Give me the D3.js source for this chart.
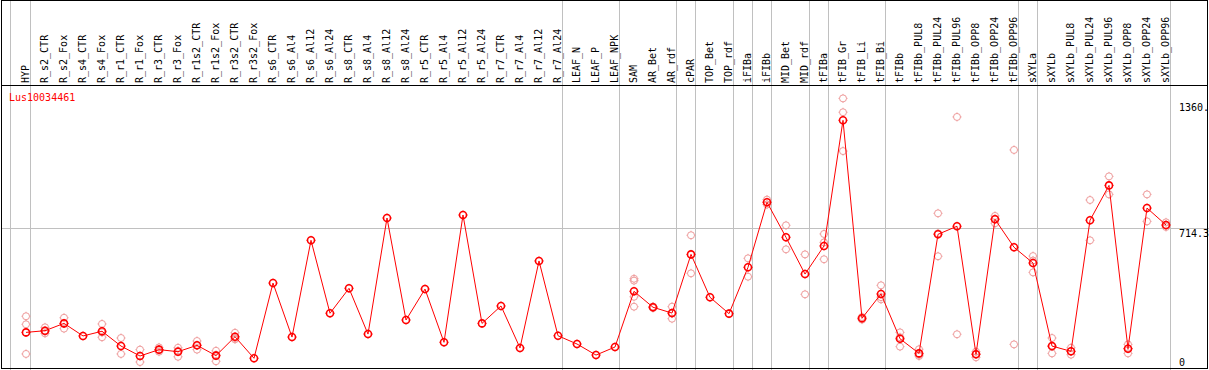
<!DOCTYPE html>
<html>
<head>
<meta charset="utf-8">
<script src="https://cdn.jsdelivr.net/npm/d3@7"></script>
<style>
  body { margin: 0; background: #fff; }
  svg text { font-family: "DejaVu Sans Mono", monospace; font-size: 10px; }
</style>
</head>
<body>
<div id="chart"></div>
<script>
const geneName = "Lus10034461";

const categories = ["HYP", "R_s2_CTR", "R_s2_Fox", "R_s4_CTR", "R_s4_Fox", "R_r1_CTR", "R_r1_Fox",
  "R_r3_CTR", "R_r3_Fox", "R_r1s2_CTR", "R_r1s2_Fox", "R_r3s2_CTR", "R_r3s2_Fox",
  "R_s6_CTR", "R_s6_Al4", "R_s6_Al12", "R_s6_Al24", "R_s8_CTR", "R_s8_Al4", "R_s8_Al12", "R_s8_Al24",
  "R_r5_CTR", "R_r5_Al4", "R_r5_Al12", "R_r5_Al24", "R_r7_CTR", "R_r7_Al4", "R_r7_Al12", "R_r7_Al24",
  "LEAF_N", "LEAF_P", "LEAF_NPK", "SAM", "AR_Bet", "AR_rdf", "cPAR", "TOP_Bet", "TOP_rdf",
  "iFIBa", "iFIBb", "MID_Bet", "MID_rdf", "tFIBa", "tFIB_Gr", "tFIB_Li", "tFIB_Bi", "tFIBb",
  "tFIBb_PUL8", "tFIBb_PUL24", "tFIBb_PUL96", "tFIBb_OPP8", "tFIBb_OPP24", "tFIBb_OPP96",
  "sXYLa", "sXYLb", "sXYLb_PUL8", "sXYLb_PUL24", "sXYLb_PUL96", "sXYLb_OPP8", "sXYLb_OPP24", "sXYLb_OPP96"];

// mean expression per sample
const means = [158, 167, 206, 139, 164, 85, 32,
  66, 55, 89, 34, 135, 20,
  421, 133, 649, 260, 393, 149, 768, 224,
  389, 105, 784, 206, 299, 75, 539, 140,
  96, 37, 80, 377, 292, 261, 574, 345, 258,
  505, 852, 665, 469, 619, 1289, 233, 363, 124,
  46, 681, 724, 41, 761, 612,
  528, 85, 57, 756, 942, 71, 821, 731];

// single replicates (pale circles)
const replicates = [[244, 201, 43], [185, 153, 163], [236, 178, 205], [], [203, 132, 158], [128, 43], [66, 0],
  [78, 55, 65], [76, 28, 60], [112, 66, 89], [60, 4, 38], [156, 121, 128], [],
  [], [], [], [], [], [], [], [],
  [], [], [], [], [], [], [], [],
  [], [], [], [444, 434, 348, 295], [296, 288], [295, 231, 258], [676, 473], [], [],
  [553, 455], [866, 840], [729, 601], [574, 361], [683, 638, 548], [1406, 1332, 1125], [240, 226], [409, 334, 346], [158, 82, 132],
  [68, 32, 38], [793, 564, 686], [1307, 148], [55, 25, 43], [779, 740, 764], [1131, 94],
  [565, 478, 541], [128, 46, 82], [76, 39, 56], [864, 649], [990, 894], [94, 46, 73], [894, 750], [745, 720, 728]];

// last sample of each group (grey separators)
const groupEnds = ["HYP", "R_r7_Al24", "LEAF_NPK", "AR_rdf", "cPAR", "TOP_rdf", "iFIBa", "iFIBb",
  "MID_rdf", "tFIBa", "tFIB_Bi", "tFIBb_OPP96", "sXYLa", "sXYLb_OPP96"];

const yTickValues = [1360, 714.3, 0];
const yTickLabels = ["1360.", "714.3", "0"];

const width = 1209, height = 370;
const headerBottom = 85.5;

const svg = d3.select("#chart").append("svg")
  .attr("width", width)
  .attr("height", height);

const x = d3.scalePoint()
  .domain(categories)
  .range([26, 1166]);

const y = d3.scaleLinear()
  .domain([0, 1360])
  .range([362, 107]);

// grey vertical separators
svg.append("line")
  .attr("x1", x("HYP") - 15.5).attr("x2", x("HYP") - 15.5)
  .attr("y1", 0).attr("y2", height)
  .attr("stroke", "#c0c0c0");

svg.selectAll(".sep")
  .data(groupEnds)
  .enter().append("line").attr("class", "sep")
  .attr("x1", d => x(d) + 4.5)
  .attr("x2", d => x(d) + 4.5)
  .attr("y1", 0)
  .attr("y2", height)
  .attr("stroke", "#c0c0c0");

// middle gridline
svg.append("line")
  .attr("x1", 1).attr("x2", width)
  .attr("y1", Math.round(y(714.3)) + 0.5).attr("y2", Math.round(y(714.3)) + 0.5)
  .attr("stroke", "#c0c0c0");

// frame
svg.append("rect")
  .attr("x", 1.5).attr("y", 0.5)
  .attr("width", 1206).attr("height", 368)
  .attr("fill", "none")
  .attr("stroke", "#000");

svg.append("line")
  .attr("x1", 1).attr("x2", 1208)
  .attr("y1", headerBottom).attr("y2", headerBottom)
  .attr("stroke", "#000");

// rotated sample names
svg.selectAll(".cat")
  .data(categories)
  .enter().append("text").attr("class", "cat")
  .attr("transform", d => "translate(" + (x(d) + 3) + "," + 83 + ") rotate(-90)")
  .attr("fill", "#000")
  .text(d => d);

svg.append("text")
  .attr("x", 9)
  .attr("y", 101)
  .attr("fill", "#ff0000")
  .text(geneName);

// right-hand value labels
svg.selectAll(".ylab")
  .data(yTickValues)
  .enter().append("text").attr("class", "ylab")
  .attr("x", 1179)
  .attr("y", (d, i) => y(d) + 4 + (i === 1 ? 4.5 : 0))
  .attr("fill", "#000")
  .text((d, i) => yTickLabels[i]);

function marker(sel, color, sw) {
  const r = 3.5;
  sel.append("circle")
    .attr("cx", d => d.x).attr("cy", d => d.y)
    .attr("r", r)
    .attr("fill", "none")
    .attr("stroke", color)
    .attr("stroke-width", sw);
  sel.append("path")
    .attr("d", d => "M" + d.x + "," + (d.y - r - 1) + "v1" +
      "M" + d.x + "," + (d.y + r) + "v1" +
      "M" + (d.x - r - 1) + "," + d.y + "h1" +
      "M" + (d.x + r) + "," + d.y + "h1")
    .attr("stroke", color)
    .attr("stroke-width", 1);
}

// replicate points
const repPoints = [];
replicates.forEach((reps, i) => {
  reps.forEach(v => repPoints.push({x: x(categories[i]), y: y(v)}));
});

svg.append("g").selectAll("g")
  .data(repPoints)
  .enter().append("g")
  .call(marker, "#ee9a9a", 1);

// mean line
const line = d3.line()
  .x((d, i) => x(categories[i]))
  .y(d => y(d));

svg.append("path")
  .datum(means)
  .attr("d", line)
  .attr("fill", "none")
  .attr("stroke", "#ff0000")
  .attr("stroke-width", 1);

svg.append("g").selectAll("g")
  .data(means.map((v, i) => ({x: x(categories[i]), y: y(v)})))
  .enter().append("g")
  .call(marker, "#ff0000", 1.6);
</script>
</body>
</html>
